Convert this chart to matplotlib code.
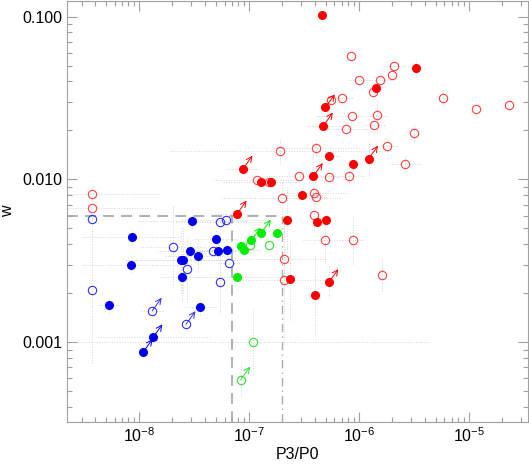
import numpy as np
import matplotlib
matplotlib.use("Agg")
import matplotlib.pyplot as plt
from matplotlib.ticker import LogLocator, FuncFormatter, NullFormatter

plt.rcParams['font.family'] = ['Liberation Sans', 'DejaVu Sans']
plt.rcParams['font.size'] = 11.5

# --- data (P3/P0, w); errors are +/- in dex ---
red_f_x = [4.61e-7, 3.30e-6, 1.43e-6, 4.97e-7, 4.77e-7, 5.37e-7, 8.89e-7, 1.23e-6, 8.85e-8, 1.30e-7,
           1.58e-7, 3.86e-7, 3.07e-7, 7.83e-8, 2.21e-7, 4.14e-7, 5.08e-7, 2.38e-7, 5.35e-7, 3.98e-7]
red_f_y = [0.103, 0.0485, 0.0366, 0.0277, 0.0214, 0.0139, 0.0124, 0.0134, 0.01163, 0.00958,
           0.00962, 0.01048, 0.00801, 0.00617, 0.00566, 0.00544, 0.00564, 0.00245, 0.00234, 0.00194]
red_f_xe = [0, 0, 0, 0, 0.15, 0.1, 0, 0, 0.15, 0.35, 0, 0, 0.2, 0.2, 0, 0, 0, 0, 0, 0]
red_f_ye = [0, 0.05, 0, 0, 0, 0, 0.05, 0.12, 0, 0, 0, 0.15, 0, 0, 0.2, 0, 0, 0.25, 0.1, 0.25]
red_f_arrow = [3, 4, 7, 8, 11, 13, 18]

red_o_x = [3.71e-9, 3.71e-9, 8.53e-7, 2.09e-6, 2.02e-6, 1.00e-6, 1.55e-6, 1.34e-6, 5.57e-7, 7.10e-7,
           5.78e-6, 1.16e-5, 2.34e-5, 8.59e-7, 1.47e-6, 7.57e-7, 1.37e-6, 3.15e-6, 1.80e-6, 2.65e-6,
           1.90e-7, 4.12e-7, 1.18e-7, 1.53e-7, 2.83e-7, 5.35e-7, 8.09e-7, 1.98e-7, 3.94e-7, 4.06e-7,
           3.93e-7, 4.94e-7, 8.89e-7, 2.09e-7, 2.08e-7, 1.61e-6]
red_o_y = [0.00809, 0.00664, 0.0575, 0.0494, 0.0440, 0.0406, 0.0406, 0.0346, 0.0306, 0.0316,
           0.0318, 0.0272, 0.0288, 0.0245, 0.0248, 0.0205, 0.0216, 0.0194, 0.01596, 0.01248,
           0.0150, 0.01567, 0.00993, 0.00962, 0.01048, 0.0104, 0.0105, 0.00773, 0.00829, 0.00783,
           0.00601, 0.00427, 0.00427, 0.00325, 0.00242, 0.00260]
red_o_xe = [0.6, 0.55, 0, 0.1, 0, 0.1, 0.1, 0, 0, 0.1,
            0, 0, 0, 0.32, 0, 0.23, 0.1, 0, 0.1, 0.15,
            1.0, 0.4, 0.4, 0, 0.3, 0.1, 0.15, 0.55, 0.3, 0.1,
            0, 0.2, 0.1, 0.4, 0.4, 0]
red_o_ye = [0, 0, 0, 0, 0, 0, 0, 0, 0, 0,
            0.05, 0, 0, 0, 0.1, 0, 0, 0.05, 0, 0.05,
            0.08, 0.05, 0, 0, 0, 0, 0.05, 0.1, 0, 0,
            0.1, 0.15, 0.15, 0.2, 0.4, 0.1]

blue_f_x = [8.6e-9, 8.45e-9, 5.37e-9, 3.04e-8, 2.91e-8, 3.47e-8, 2.42e-8, 2.52e-8, 2.45e-8, 5.02e-8,
            5.24e-8, 6.30e-8, 3.62e-8, 1.34e-8, 1.09e-8]
blue_f_y = [0.00444, 0.00298, 0.00169, 0.00554, 0.00366, 0.00341, 0.00318, 0.00318, 0.00252, 0.00433,
            0.00366, 0.00370, 0.00165, 0.00107, 0.000869]
blue_f_xe = [0.45, 0.45, 0.1, 0.5, 0.3, 0.3, 0.5, 0.5, 0.2, 0.2, 0.2, 0.3, 0.15, 0.5, 0]
blue_f_ye = [0.05, 0.05, 0.05, 0.05, 0.05, 0.1, 0.2, 0.2, 0.15, 0.05, 0.05, 0.05, 0.05, 0, 0]
blue_f_arrow = [13, 14]

blue_o_x = [3.71e-9, 3.71e-9, 2.05e-8, 2.72e-8, 4.69e-8, 5.50e-8, 6.16e-8, 6.64e-8, 5.43e-8, 1.32e-8, 2.68e-8]
blue_o_y = [0.00574, 0.00209, 0.00386, 0.00280, 0.00366, 0.00550, 0.00565, 0.00308, 0.00236, 0.00156, 0.00129]
blue_o_xe = [0, 0, 0.3, 0, 0.2, 0.4, 0.4, 0.1, 0, 0.1, 0]
blue_o_ye = [0, 0.45, 0.25, 0.2, 0, 0, 0, 0, 0.2, 0, 0]
blue_o_arrow = [9, 10]

green_f_x = [7.82e-8, 8.40e-8, 8.99e-8, 1.05e-7, 1.30e-7, 1.79e-7]
green_f_y = [0.00252, 0.00389, 0.00369, 0.00422, 0.00471, 0.00468]
green_f_xe = [0.4, 0, 0, 0, 0, 0]
green_f_ye = [0, 0, 0, 0, 0, 0]
green_f_arrow = [3, 4]

green_o_x = [1.03e-7, 1.53e-7, 1.10e-7, 8.43e-8]
green_o_y = [0.00394, 0.00394, 0.00101, 0.000589]
green_o_xe = [0, 0, 1.6, 0]
green_o_ye = [0, 0, 0.2, 0.1]
green_o_arrow = [3]

w_cut = 0.006
p_cut_lo = 7.0e-8
p_cut_hi = 2.0e-7

fig = plt.figure(figsize=(5.29, 4.66), dpi=100)
ax = fig.add_axes([0.127, 0.095, 0.872, 0.903])
ax.set_xscale('log')
ax.set_yscale('log')
ax.set_xlim(2.22e-9, 3.5e-5)
ax.set_ylim(3.25e-4, 0.1248)


def draw_group(xs, ys, xe, ye, arrows, color, filled):
    xs = np.array(xs)
    ys = np.array(ys)
    for x, y, dx, dy in zip(xs, ys, xe, ye):
        if dx > 0:
            ax.plot([x / 10**dx, x * 10**dx], [y, y], ls=':', color='#d4d4d4', lw=0.7, zorder=1)
        if dy > 0:
            ax.plot([x, x], [y / 10**dy, y * 10**dy], ls=':', color='#d4d4d4', lw=0.7, zorder=1)
    if filled:
        ax.plot(xs, ys, 'o', color=color, ms=5.5, mec=color, zorder=4)
    else:
        ax.plot(xs, ys, 'o', mfc='none', mec=color, ms=6, mew=0.8, zorder=3)
    for i in arrows:
        ax.annotate('', xy=(xs[i] * 10**0.085, ys[i] * 10**0.08), xytext=(xs[i], ys[i]),
                    arrowprops=dict(arrowstyle='->', color=color, lw=0.7,
                                    shrinkA=0, shrinkB=0, mutation_scale=10), zorder=3)


draw_group(red_o_x, red_o_y, red_o_xe, red_o_ye, [], '#ff4040', False)
draw_group(red_f_x, red_f_y, red_f_xe, red_f_ye, red_f_arrow, '#ff0000', True)
draw_group(blue_o_x, blue_o_y, blue_o_xe, blue_o_ye, blue_o_arrow, '#3030ff', False)
draw_group(blue_f_x, blue_f_y, blue_f_xe, blue_f_ye, blue_f_arrow, '#0000ee', True)
draw_group(green_o_x, green_o_y, green_o_xe, green_o_ye, green_o_arrow, '#30e030', False)
draw_group(green_f_x, green_f_y, green_f_xe, green_f_ye, green_f_arrow, '#00ee00', True)

# selection box
ax.plot([2.22e-9, p_cut_hi], [w_cut, w_cut], color='#aaaaaa', ls=(0, (6, 4)), lw=1.3, zorder=2)
ax.plot([p_cut_lo, p_cut_lo], [3.25e-4, w_cut], color='#aaaaaa', ls=(0, (6, 4)), lw=1.3, zorder=2)
ax.plot([p_cut_hi, p_cut_hi], [3.25e-4, w_cut], color='#aaaaaa', ls=(0, (6, 3, 1, 3)), lw=1.0, zorder=2)

for s in ax.spines.values():
    s.set_color('#a0a0a0')
ax.tick_params(which='both', direction='in', top=True, right=True, color='#a0a0a0')
ax.tick_params(which='major', length=7, width=0.8)
ax.tick_params(which='minor', length=3.5, width=0.8)
ax.xaxis.set_major_locator(LogLocator(base=10, numticks=10))
ax.xaxis.set_minor_locator(LogLocator(base=10, subs=np.arange(2, 10), numticks=10))
ax.yaxis.set_major_locator(LogLocator(base=10, numticks=10))
ax.yaxis.set_minor_locator(LogLocator(base=10, subs=np.arange(2, 10), numticks=10))
ax.yaxis.set_major_formatter(FuncFormatter(lambda v, p: '%.3f' % v))
ax.yaxis.set_minor_formatter(NullFormatter())
ax.xaxis.set_minor_formatter(NullFormatter())

ax.set_xlabel('P3/P0', labelpad=1)
ax.set_ylabel('w', labelpad=5)

fig.savefig('out.png', dpi=100)
